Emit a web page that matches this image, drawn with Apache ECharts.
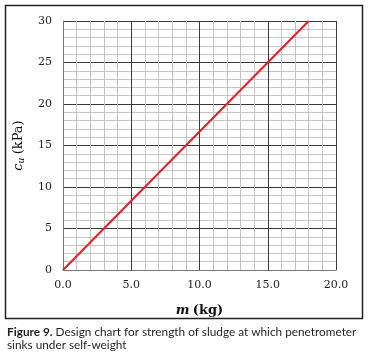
<!DOCTYPE html>
<html>
<head>
<meta charset="utf-8">
<script src="https://cdn.jsdelivr.net/npm/echarts@6/dist/echarts.min.js"></script>
<style>
    html, body { margin: 0; padding: 0; background: #fff; }
    #chart { width: 370px; height: 355px; }
</style>
</head>
<body>
<div id="chart"></div>
<script>
    // design line: cu against m
    var massKg = [0, 18];
    var cuKPa = [0, 30];
    var xTicks = [0, 5, 10, 15, 20];
    var yTicks = [0, 5, 10, 15, 20, 25, 30];

    var points = massKg.map(function (m, i) { return [m, cuKPa[i]]; });

    var serif = 'DejaVu Serif';
    var major = '#3a3a3a';
    var minor = '#c4c4c4';

    var myChart = echarts.init(document.getElementById('chart'));
    var option = {
        backgroundColor: '#fff',
        animation: false,
        grid: { left: 63, right: 34, top: 21, bottom: 85 },
        xAxis: {
            type: 'value',
            min: xTicks[0],
            max: xTicks[xTicks.length - 1],
            interval: 5,
            name: '{i|m} {n|(kg)}',
            nameLocation: 'middle',
            nameGap: 34,
            nameTextStyle: {
                rich: {
                    i: { fontFamily: serif, fontStyle: 'italic', fontWeight: 'bold', fontSize: 13, color: '#111' },
                    n: { fontFamily: serif, fontWeight: 'bold', fontSize: 13, color: '#111' }
                }
            },
            axisLine: { show: true, lineStyle: { color: '#777', width: 1 } },
            axisTick: { show: false },
            axisLabel: {
                margin: 10,
                fontFamily: serif,
                fontSize: 11,
                color: '#222',
                formatter: function (v) { return v.toFixed(1); }
            },
            splitLine: { show: true, lineStyle: { color: major, width: 1 } },
            minorTick: { show: false, splitNumber: 5 },
            minorSplitLine: { show: true, lineStyle: { color: minor, width: 1 } }
        },
        yAxis: {
            type: 'value',
            min: yTicks[0],
            max: yTicks[yTicks.length - 1],
            interval: 5,
            name: '{i|c}{s|u} {n|(kPa)}',
            nameLocation: 'middle',
            nameRotate: 90,
            nameGap: 37,
            nameTextStyle: {
                rich: {
                    i: { fontFamily: serif, fontStyle: 'italic', fontSize: 13, color: '#111' },
                    s: { fontFamily: serif, fontStyle: 'italic', fontSize: 9, color: '#111', padding: [6, 0, 0, 0] },
                    n: { fontFamily: serif, fontSize: 13, color: '#111' }
                }
            },
            axisLine: { show: true, lineStyle: { color: '#777', width: 1 } },
            axisTick: { show: false },
            axisLabel: {
                margin: 11,
                fontFamily: serif,
                fontSize: 11,
                color: '#222'
            },
            splitLine: { show: true, lineStyle: { color: major, width: 1 } },
            minorTick: { show: false, splitNumber: 5 },
            minorSplitLine: { show: true, lineStyle: { color: minor, width: 1 } }
        },
        title: {
            left: 7,
            top: 326,
            padding: 0,
            text: '{b|Figure 9.} Design chart for strength of sludge at which penetrometer\nsinks under self-weight',
            textStyle: {
                fontFamily: 'Lato',
                fontSize: 11.8,
                fontWeight: 'normal',
                color: '#231f20',
                lineHeight: 13,
                rich: {
                    b: { fontFamily: 'Lato', fontSize: 11.8, fontWeight: 'bold', color: '#231f20', lineHeight: 13 }
                }
            }
        },
        graphic: [{
            type: 'rect',
            shape: { x: 5.5, y: 5.5, width: 357, height: 313 },
            style: { fill: 'none', stroke: '#222', lineWidth: 1.5 },
            silent: true
        }],
        series: [{
            type: 'line',
            data: points,
            symbol: 'none',
            lineStyle: { color: '#e31e24', width: 2 }
        }]
    };
    myChart.setOption(option);
</script>
</body>
</html>
